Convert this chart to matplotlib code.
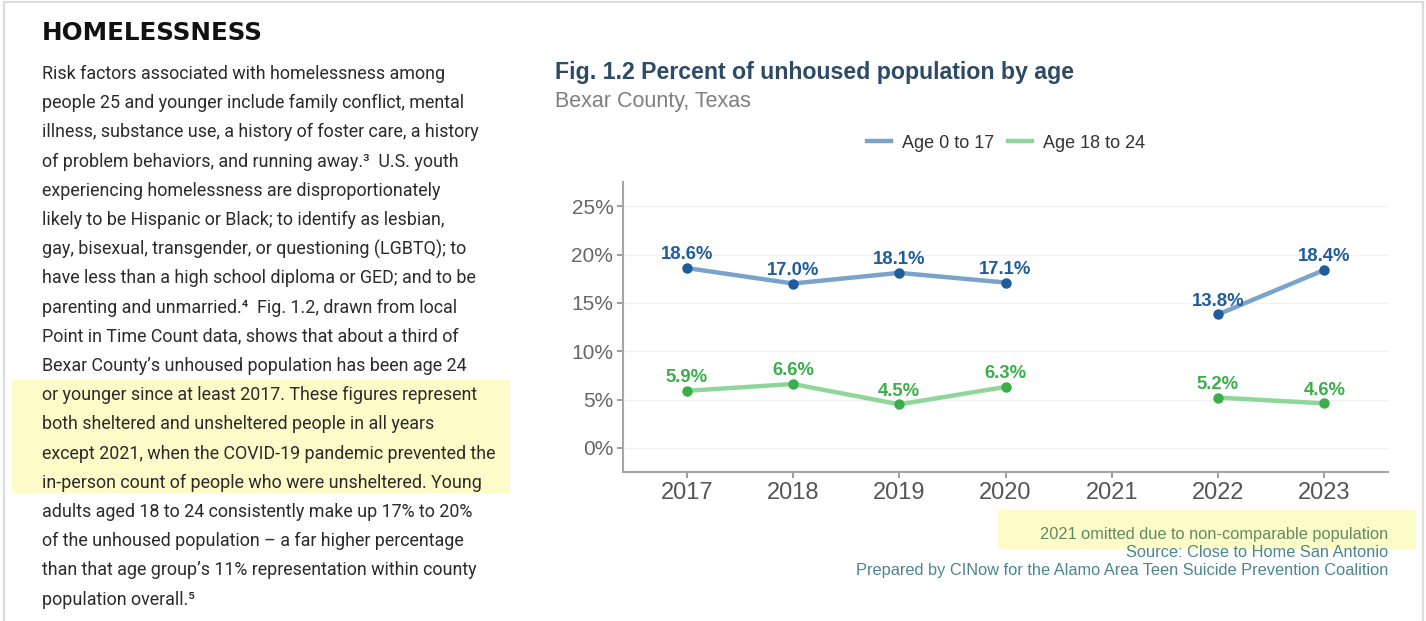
import numpy as np
import matplotlib.pyplot as plt
from matplotlib.patches import Rectangle
from matplotlib.lines import Line2D

W, H = 1426, 621

# chart data
years = [2017, 2018, 2019, 2020, 2021, 2022, 2023]
age_0_17 = [18.6, 17.0, 18.1, 17.1, np.nan, 13.8, 18.4]
age_18_24 = [5.9, 6.6, 4.5, 6.3, np.nan, 5.2, 4.6]
y_ticks = [0, 5, 10, 15, 20, 25]
series_names = ["Age 0 to 17", "Age 18 to 24"]

heading = "HOMELESSNESS"
body_lines = [
    "Risk factors associated with homelessness among",
    "people 25 and younger include family conflict, mental",
    "illness, substance use, a history of foster care, a history",
    "of problem behaviors, and running away.\u00b3  U.S. youth",
    "experiencing homelessness are disproportionately",
    "likely to be Hispanic or Black; to identify as lesbian,",
    "gay, bisexual, transgender, or questioning (LGBTQ); to",
    "have less than a high school diploma or GED; and to be",
    "parenting and unmarried.\u2074  Fig. 1.2, drawn from local",
    "Point in Time Count data, shows that about a third of",
    "Bexar County\u2019s unhoused population has been age 24",
    "or younger since at least 2017. These figures represent",
    "both sheltered and unsheltered people in all years",
    "except 2021, when the COVID-19 pandemic prevented the",
    "in-person count of people who were unsheltered. Young",
    "adults aged 18 to 24 consistently make up 17% to 20%",
    "of the unhoused population \u2013 a far higher percentage",
    "than that age group\u2019s 11% representation within county",
    "population overall.\u2075",
]
captions = [
    "2021 omitted due to non-comparable population",
    "Source: Close to Home San Antonio",
    "Prepared by CINow for the Alamo Area Teen Suicide Prevention Coalition",
]

blue_pt, blue_ln = "#1f5c9c", "#7aa3c9"
green_pt, green_ln = "#3aae4a", "#8fd69a"
yellow = "#fdfcc8"

plt.rcParams["font.family"] = ["Liberation Sans", "DejaVu Sans"]

fig = plt.figure(figsize=(W / 100, H / 100), dpi=100)


def fx(x):
    return x / W


def fy(y):
    return 1 - y / H


# page frame
fig.add_artist(Line2D([fx(4), fx(4)], [0, fy(2)], color="#dcdcdc", lw=1.6))
fig.add_artist(Line2D([fx(4), fx(1423)], [fy(2), fy(2)], color="#dcdcdc", lw=1.6))
fig.add_artist(Line2D([fx(1423), fx(1423)], [0, fy(2)], color="#dcdcdc", lw=1.6))

# highlight boxes
fig.add_artist(Rectangle((fx(12), fy(493)), fx(510) - fx(12), fy(380) - fy(493),
                         facecolor=yellow, edgecolor="none", zorder=0))
fig.add_artist(Rectangle((fx(998), fy(549)), fx(1416) - fx(998), fy(510) - fy(549),
                         facecolor=yellow, edgecolor="none", zorder=0))

# left column text
fig.text(fx(42), fy(33), heading, family="DejaVu Sans", fontweight="heavy",
         fontsize=17.7, color="#111111", va="center", ha="left")
for i, line in enumerate(body_lines):
    fig.text(fx(42), fy(74 + i * 29.2), line, family=["Roboto", "DejaVu Sans"],
             fontsize=12.9, color="#2b2b2b", va="center", ha="left")

# chart titles
fig.text(fx(555), fy(72), "Fig. 1.2 Percent of unhoused population by age",
         fontsize=16.7, fontweight="bold", color="#2d4a66", va="center", ha="left")
fig.text(fx(555), fy(101), "Bexar County, Texas", fontsize=15.5,
         color="#7f7f7f", va="center", ha="left")

ax = fig.add_axes([fx(623), fy(472), fx(1388) - fx(623), fy(182) - fy(472)])
ax.set_xlim(2016.4, 2023.6)
ax.set_ylim(-2.5, 27.5)

series = [(age_0_17, blue_ln, blue_pt), (age_18_24, green_ln, green_pt)]
for vals, lc, pc in series:
    ax.plot(years, vals, color=lc, lw=3.2, solid_capstyle="round", zorder=2)
    ax.plot(years, vals, "o", color=pc, ms=6.5, zorder=3)
    for x, v in zip(years, vals):
        if np.isnan(v):
            continue
        ax.annotate(f"{v:.1f}%", (x, v), xytext=(0, 9.5), textcoords="offset points",
                    ha="center", va="center", fontsize=13.3, fontweight="bold",
                    color=pc, zorder=4)

ax.set_xticks(years)
ax.set_xticklabels([str(y) for y in years])
ax.set_yticks(y_ticks)
ax.set_yticklabels([f"{t}%" for t in y_ticks])
ax.tick_params(axis="x", labelsize=17, colors="#8c8c8c", labelcolor="#555555",
               length=4, width=1.2, pad=3)
ax.tick_params(axis="y", labelsize=15, colors="#8c8c8c", labelcolor="#666666",
               length=4, width=1.2, pad=3)
for t in y_ticks:
    ax.axhline(t, color="#f1f1f1", lw=1, zorder=0)
for side in ["top", "right"]:
    ax.spines[side].set_visible(False)
for side in ["left", "bottom"]:
    ax.spines[side].set_color("#a6a6a6")
    ax.spines[side].set_linewidth(1.5)

handles = [Line2D([], [], color=blue_ln, lw=3.2), Line2D([], [], color=green_ln, lw=3.2)]
fig.legend(handles, series_names, loc="center", bbox_to_anchor=(fx(1006), fy(143)),
           ncol=2, frameon=False, fontsize=13, handlelength=1.3, handletextpad=0.6,
           columnspacing=0.8, labelcolor="#333333")

# notes under the chart
cap_colors = ["#5f8a60", "#4a8590", "#4a8590"]
for i, (txt, c) in enumerate(zip(captions, cap_colors)):
    fig.text(fx(1388), fy(535 + i * 17.5), txt, fontsize=11.8, color=c,
             va="center", ha="right")

fig.savefig("out.png", dpi=100, facecolor="white")
